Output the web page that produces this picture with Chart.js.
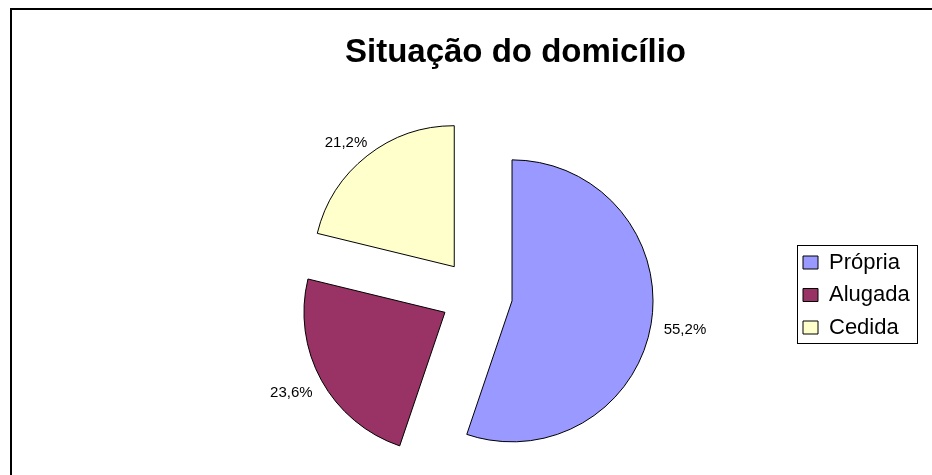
<!DOCTYPE html>
<html>
<head>
<meta charset="utf-8">
<script src="https://cdn.jsdelivr.net/npm/chart.js@4"></script>
<style>
  html, body { margin: 0; padding: 0; background: #fff; }
  #wrap { width: 932px; height: 475px; }
</style>
</head>
<body>
<div id="wrap"><canvas id="graph" width="932" height="475"></canvas></div>
<script>
var categories = ['Própria', 'Alugada', 'Cedida']
var values = [55.2, 23.6, 21.2]
var colors = ['#9999FF', '#993366', '#FFFFCC']

// how far every slice is pulled out from the centre, px
var explode = 36

// move each arc's own centre out along its middle angle
// (the built in offset narrows and grows slices over 180deg)
var explodeArcs = {
    id: 'explodeArcs',
    afterDatasetsUpdate: function (chart) {
        chart.getDatasetMeta(0).data.forEach(function (arc) {
            var mid = (arc.startAngle + arc.endAngle) / 2
            arc.x += Math.cos(mid) * explode
            arc.y += Math.sin(mid) * explode
        })
    }
}

var pctLabels = {
    id: 'pctLabels',
    afterDatasetsDraw: function (chart) {
        var ctx = chart.ctx
        ctx.save()
        ctx.font = '15px "Liberation Sans", Arial, sans-serif'
        ctx.fillStyle = '#000'
        ctx.textAlign = 'center'
        ctx.textBaseline = 'middle'
        chart.getDatasetMeta(0).data.forEach(function (arc, i) {
            var mid = (arc.startAngle + arc.endAngle) / 2
            var r = arc.outerRadius + 13
            var txt = values[i].toFixed(1).replace('.', ',') + '%'
            var w = ctx.measureText(txt).width
            var x = arc.x + Math.cos(mid) * r + Math.cos(mid) * w / 2
            var y = arc.y + Math.sin(mid) * r + Math.sin(mid) * 7 + 3
            ctx.fillText(txt, x, y)
        })
        ctx.restore()
    }
}

var frames = {
    id: 'frames',
    afterLayout: function (chart) {
        // legend box is kept narrow for the layout, let its text run past it
        var lg = chart.legend
        lg.right = chart.width
        lg.width = lg.right - lg.left
    },
    beforeDraw: function (chart) {
        var ctx = chart.ctx
        ctx.save()
        ctx.fillStyle = '#fff'
        ctx.fillRect(0, 0, chart.width, chart.height)
        ctx.restore()
    },
    afterDraw: function (chart) {
        var ctx = chart.ctx
        ctx.save()
        ctx.strokeStyle = '#000'
        ctx.lineWidth = 2
        ctx.beginPath()
        ctx.moveTo(11, chart.height + 5)
        ctx.lineTo(11, 9)
        ctx.lineTo(chart.width + 5, 9)
        ctx.stroke()

        // box around the legend
        var boxes = chart.legend.legendHitBoxes
        var left = boxes[0].left, right = 0
        boxes.forEach(function (b) {
            left = Math.min(left, b.left)
            right = Math.max(right, b.left + b.width)
        })
        var top = boxes[0].top
        var last = boxes[boxes.length - 1]
        var bottom = last.top + last.height
        ctx.lineWidth = 1
        ctx.strokeRect(Math.round(left - 6) + 0.5, Math.round(top - 7) + 0.5,
            Math.round(right - left + 13), Math.round(bottom - top + 11))
        ctx.restore()
    }
}

var ctx = document.getElementById('graph').getContext('2d')

var myChart = new Chart(ctx, {
    type: 'pie',
    data: {
        labels: categories,
        datasets: [{
            data: values,
            backgroundColor: colors,
            borderColor: '#000',
            borderWidth: 1,
            hoverOffset: 0,
            radius: 141
        }]
    },
    options: {
        responsive: false,
        animation: false,
        events: [],
        layout: {
            padding: { left: 160.5, right: 61.5, top: 0, bottom: 10 }
        },
        plugins: {
            title: {
                display: true,
                text: 'Situação do domicílio',
                color: '#000',
                font: { family: '"Liberation Sans", Arial, sans-serif', size: 33, weight: 'bold', lineHeight: 1.2 },
                padding: { top: 33.2, bottom: 52.2 }
            },
            legend: {
                display: true,
                position: 'right',
                align: 'center',
                fullSize: false,
                maxWidth: 78,
                labels: {
                    color: '#000',
                    font: { family: '"Liberation Sans", Arial, sans-serif', size: 22 },
                    boxWidth: 15,
                    boxHeight: 13,
                    padding: 10.5
                }
            },
            tooltip: { enabled: false }
        }
    },
    plugins: [explodeArcs, pctLabels, frames]
})
</script>
</body>
</html>
